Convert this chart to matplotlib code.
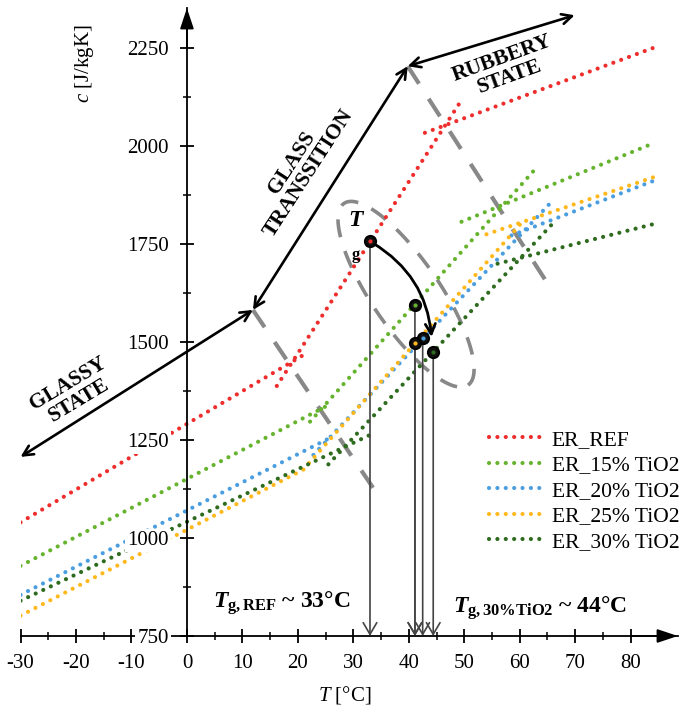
import numpy as np
import matplotlib
matplotlib.use('Agg')
import matplotlib.pyplot as plt

plt.rcParams['font.family'] = ['Liberation Serif', 'DejaVu Serif']
plt.rcParams['axes.unicode_minus'] = False
plt.rcParams['mathtext.fontset'] = 'custom'
plt.rcParams['mathtext.rm'] = 'Liberation Serif'
plt.rcParams['mathtext.it'] = 'Liberation Serif:italic'
plt.rcParams['mathtext.bf'] = 'Liberation Serif:bold'
plt.rcParams['mathtext.bfit'] = 'Liberation Serif:italic:bold'

# series: each has glassy / transition / rubbery segment, given by end points (T, c)
names = ['ER_REF', 'ER_15% TiO2', 'ER_20% TiO2', 'ER_25% TiO2', 'ER_30% TiO2']
colors = ['#ee2d2d', '#66b32e', '#4a9ee0', '#ffb81c', '#2e6b1e']

glassy_T = [(-30, 21), (-30, 26), (-30, 26), (-30, 22), (-30, 33)]
glassy_c = [(1040, 1467), (929, 1343), (855, 1257), (802, 1182), (840, 1263)]
trans_T = [(16.2, 49.3), (22.2, 62.7), (22.8, 66.0), (22.0, 61.0), (25.5, 66.3)]
trans_c = [(1388, 2113), (1297, 1940), (1212, 1862), (1191, 1815), (1188, 1808)]
rubb_T = [(42.9, 84.9), (49.5, 83.7), (58.5, 84.6), (54.0, 84.6), (56.0, 84.1)]
rubb_c = [(2034, 2255), (1807, 2005), (1772, 1914), (1775, 1923), (1700, 1801)]

# glass transition temperatures
tg_T = [33.0, 41.1, 42.5, 41.1, 44.4]
tg_c = [1758, 1594, 1510, 1497, 1475]

fig = plt.figure(figsize=(6.89, 7.11), dpi=100)
ax = fig.add_axes([0.0298, 0.1055, 0.954, 0.883])
ax.set_xlim(-30, 88.5)
ax.set_ylim(750, 2352)

for s in ['top', 'right']:
    ax.spines[s].set_visible(False)
ax.spines['left'].set_position(('data', 0))
for s in ['left', 'bottom']:
    ax.spines[s].set_linewidth(1.3)
ax.yaxis.set_zorder(3)

ax.set_xticks(np.arange(-30, 81, 10))
ax.set_xticks(np.arange(-25, 86, 5), minor=True)
ax.set_yticks(np.arange(750, 2251, 250))
ax.set_yticks(np.arange(875, 2251, 250), minor=True)
ax.tick_params(which='major', direction='inout', length=10, width=1.3, labelsize=15)
ax.tick_params(which='minor', direction='inout', length=6, width=1.1)
ax.tick_params(axis='x', pad=8)
ax.tick_params(axis='y', pad=8)
for lab in ax.get_yticklabels():
    lab.set_bbox(dict(facecolor='white', edgecolor='none', pad=1.5))

# axis arrows
ax.annotate('', xy=(88.5, 750), xytext=(80, 750), annotation_clip=False,
            arrowprops=dict(arrowstyle='-|>,head_length=0.9,head_width=0.3', color='k', lw=1.3,
                            shrinkA=0, shrinkB=0, mutation_scale=14))
ax.annotate('', xy=(0, 2352), xytext=(0, 2250), annotation_clip=False,
            arrowprops=dict(arrowstyle='-|>,head_length=0.9,head_width=0.3', color='k', lw=1.3,
                            shrinkA=0, shrinkB=0, mutation_scale=14))

dot = dict(lw=3.0, linestyle=(0, (0.01, 2.0)), dash_capstyle='round', zorder=2)
handles = []
for i in range(5):
    for tt, cc in [(glassy_T[i], glassy_c[i]), (trans_T[i], trans_c[i]), (rubb_T[i], rubb_c[i])]:
        ln, = ax.plot(tt, cc, color=colors[i], **dot)
    handles.append(ln)

# phase arrows
arr = dict(arrowstyle='<->', color='k', lw=1.9, shrinkA=0, shrinkB=0, mutation_scale=18)
ax.annotate('', xy=(-30, 1207), xytext=(11.9, 1582), arrowprops=arr, annotation_clip=False)
ax.annotate('', xy=(11.9, 1582), xytext=(39.8, 2204), arrowprops=arr)
ax.annotate('', xy=(39.8, 2204), xytext=(69.9, 2334), arrowprops=arr)

phase = dict(fontsize=15.5, fontweight='bold', ha='center', va='center',
             rotation_mode='anchor', multialignment='center', linespacing=1.0)
ax.text(-20.4, 1372, 'GLASSY\nSTATE', rotation=31, **phase)
ax.text(20.4, 1944, 'GLASS\nTRANSSITION', rotation=57, **phase)
ax.text(57.5, 2201, 'RUBBERY\nSTATE', rotation=20, **phase)

# grey dashed boundaries
gd = dict(color='#888888', lw=3, linestyle=(0, (5, 4.3)), zorder=1)
ax.plot([11.9, 34.8], [1582, 1102], **gd)
ax.plot([39.8, 65.4], [2204, 1641], **gd)

# dashed ellipse around Tg points
cen = ax.transData.transform((39.5, 1622))
t = np.linspace(0, 2 * np.pi, 300)
ang = np.deg2rad(-55.7)
u = np.array([np.cos(ang), np.sin(ang)])
n = np.array([-np.sin(ang), np.cos(ang)])
pts = cen + np.outer(110 * np.cos(t), u) + np.outer(34 * np.sin(t), n)
ell = ax.transData.inverted().transform(pts)
ax.plot(ell[:, 0], ell[:, 1], color='#888888', lw=2.6, linestyle=(0, (5, 4)), zorder=1)

# Tg drop lines and markers
for i in range(5):
    ax.annotate('', xy=(tg_T[i], 750), xytext=(tg_T[i], tg_c[i]),
                arrowprops=dict(arrowstyle='->,head_length=0.6,head_width=0.35', color='#444444',
                                lw=1.2, shrinkA=0, shrinkB=0, mutation_scale=14), zorder=3)
    ax.plot(tg_T[i], tg_c[i], 'o', ms=8, mfc='#111111', mec='k', mew=1.5, zorder=5)
    ax.plot(tg_T[i], tg_c[i], 'o', ms=3, mfc=colors[i], mec='none', zorder=6)

ax.annotate('', xy=(44.1, 1513), xytext=(33.6, 1752),
            arrowprops=dict(arrowstyle='->', connectionstyle='arc3,rad=-0.25', color='k',
                            lw=2, shrinkA=0, shrinkB=0, mutation_scale=18), zorder=4)

ax.text(30.3, 1811, 'T', fontsize=17, fontweight='bold', fontstyle='italic', ha='center', va='center')
ax.text(30.5, 1722, 'g', fontsize=12, fontweight='bold', ha='center', va='center')

ax.text(4.7, 821, r'$\mathbfit{T}_{\mathbf{g,REF}}$ ~ 33°C', fontsize=17, fontweight='bold',
        ha='left', va='baseline')
ax.text(47.9, 809, r'$\mathbfit{T}_{\mathbf{g,30\%TiO2}}$ ~ 44°C', fontsize=17, fontweight='bold',
        ha='left', va='baseline')

ax.legend(handles, names, loc='upper left', bbox_to_anchor=(0.70, 0.342), frameon=False,
          handlelength=2.4, handletextpad=0.5, labelspacing=0.25, fontsize=15.5, borderaxespad=0)

fig.text(85 / 689, 1 - 64 / 711, r'$c$ [J/kgK]', rotation=90, fontsize=15, ha='center', va='center')
fig.text(345 / 689, 1 - 695 / 711, r'$T$ [°C]', fontsize=15, ha='center', va='center')

fig.savefig('out.png', dpi=100)
